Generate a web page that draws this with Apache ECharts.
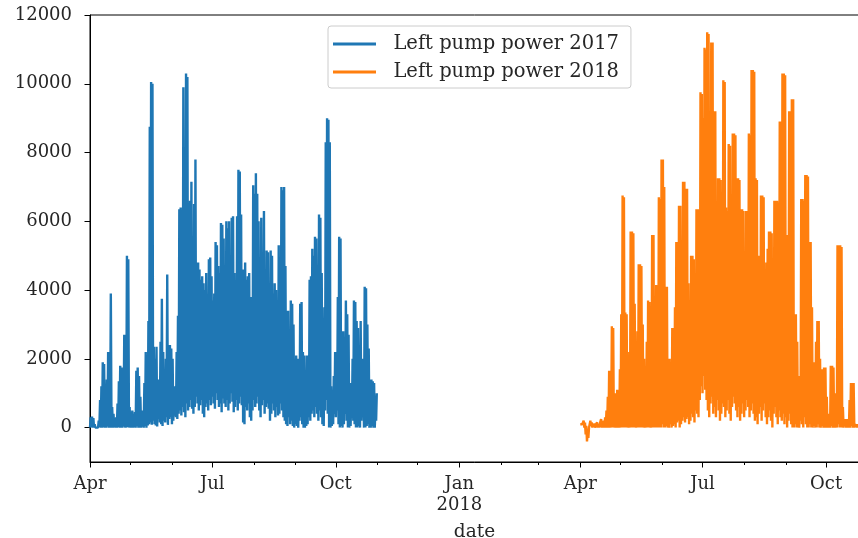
<!DOCTYPE html>
<html>
<head>
<meta charset="utf-8">
<script src="https://cdn.jsdelivr.net/npm/echarts@6/dist/echarts.min.js"></script>
<style>
  html, body { margin: 0; padding: 0; background: #fff; }
  #chart { width: 858px; height: 538px; }
</style>
</head>
<body>
<div id="chart"></div>
<script>
// daily readings: one low (night) and one high (day) per day
const start2017 = [2017, 3, 1];
const start2018 = [2018, 3, 1];

const high2017 = [
  300, 320, 280, 100, 30, 0, 200, 800, 1200, 1900,
  1850, 600, 1400, 2200, 2100, 3900, 600, 400, 150, 300,
  700, 1350, 1800, 1750, 900, 2700, 1200, 5000, 4900, 600,
  300, 500, 200, 450, 1650, 1750, 1500, 900, 400, 500,
  1300, 2200, 2100, 3100, 8750, 10050, 10000, 2350, 2000, 2350,
  1400, 900, 2500, 3750, 2200, 1200, 2000, 4450, 1500, 2400,
  2300, 2000, 1200, 800, 2200, 3250, 6350, 6400, 2600, 9900,
  5000, 10300, 10200, 4100, 6600, 7150, 3000, 6500, 7800, 4700,
  4800, 4600, 4300, 4400, 4200, 4000, 4500, 2800, 4900, 4950,
  4400, 3700, 3900, 5400, 5300, 4700, 4500, 5950, 5900, 5500,
  4200, 6000, 5800, 6000, 4200, 6100, 6150, 4500, 3000, 6150,
  7500, 7450, 6200, 4600, 4600, 4800, 4300, 4400, 4500, 3800,
  3200, 7050, 6800, 7400, 6800, 6000, 3700, 6100, 4700, 6300,
  3700, 5150, 5100, 4200, 5150, 5000, 3900, 4200, 4000, 3500,
  5300, 3600, 7000, 6900, 7000, 4700, 3400, 3400, 2500, 3700,
  3600, 3000, 1700, 2100, 2000, 1100, 3600, 3650, 2200, 2100,
  900, 2100, 1800, 4300, 4400, 5200, 5000, 5550, 5500, 4300,
  6200, 6100, 4500, 2700, 3500, 8300, 9000, 8950, 8300, 1200,
  600, 1500, 2200, 1400, 3800, 5550, 5500, 2400, 2800, 1900,
  3700, 3300, 2700, 1300, 900, 2000, 3700, 3650, 3100, 2900,
  1500, 3100, 2000, 1000, 4100, 4050, 3000, 2300, 800, 1400,
  1350, 1300, 600, 1000
];
const low2017 = [
  0, 10, 0, 0, 0, 0, 0, 20, 0, 0,
  10, 0, 0, 30, 0, 0, 0, 0, 10, 0,
  0, 20, 0, 0, 0, 30, 0, 0, 20, 0,
  0, 0, 0, 10, 0, 40, 0, 0, 0, 30,
  0, 50, 0, 60, 100, 150, 80, 200, 100, 60,
  30, 250, 150, 100, 50, 200, 150, 300, 80, 250,
  300, 100, 200, 350, 300, 250, 400, 500, 350, 600,
  450, 300, 700, 500, 600, 800, 550, 400, 600, 900,
  700, 500, 650, 800, 400, 300, 600, 700, 500, 800,
  650, 900, 700, 550, 1000, 800, 600, 700, 450, 850,
  700, 600, 800, 500, 700, 1000, 750, 450, 600, 800,
  500, 700, 900, 650, 150, 100, 600, 500, 700, 300,
  200, 500, 800, 600, 700, 900, 500, 300, 650, 800,
  400, 600, 700, 550, 200, 400, 700, 500, 300, 600,
  350, 400, 700, 500, 300, 200, 100, 50, 300, 100,
  200, 50, 0, 100, 50, 0, 200, 300, 100, 0,
  0, 50, 100, 300, 200, 400, 500, 300, 600, 400,
  200, 500, 300, 100, 50, 500, 800, 400, 0, 0,
  50, 100, 400, 300, 500, 100, 0, 50, 0, 100,
  400, 200, 0, 0, 50, 300, 200, 100, 0, 0,
  50, 0, 200, 300, 0, 0, 50, 100, 0, 0,
  50, 0, 0, 200
];

const high2018 = [
  150, 100, 200, 150, 50, -100, 0, 200, 150, 100,
  120, 80, 150, 100, 100, 250, 150, 200, 300, 500,
  900, 1650, 1200, 2950, 2900, 700, 1000, 1100, 900, 1700,
  3300, 6750, 6700, 3350, 3300, 1500, 2200, 5700, 5700, 5650,
  3600, 2000, 2800, 4750, 4750, 4700, 3000, 2000, 1100, 2500,
  3700, 3650, 2400, 5600, 5600, 3000, 4150, 4100, 6700, 6650,
  7800, 7800, 7000, 4100, 4100, 1200, 2000, 1300, 2900, 2900,
  3500, 5400, 5400, 6450, 6450, 4000, 7150, 7150, 6950, 6950,
  4200, 3000, 5000, 5000, 4900, 4000, 6350, 6350, 6300, 9750,
  9700, 9000, 11050, 11000, 11500, 11450, 8000, 11200, 11200, 9200,
  9200, 6500, 7250, 7250, 7200, 5000, 10100, 10050, 6400, 6300,
  8250, 8200, 5500, 8550, 8550, 8500, 7250, 7250, 7200, 6350,
  6350, 6300, 4900, 6300, 6300, 8550, 8500, 10400, 10400, 10350,
  7250, 7200, 5000, 5000, 6750, 6750, 6700, 4600, 4800, 5200,
  5700, 5700, 5650, 4400, 6600, 6600, 6600, 6550, 8900, 8900,
  10300, 10300, 10250, 5600, 5600, 9200, 9200, 9550, 9550, 3300,
  3300, 2500, 1500, 1500, 6650, 6650, 6600, 7350, 7350, 7300,
  5400, 5400, 3500, 1900, 1900, 2500, 3100, 3100, 2000, 1700,
  1700, 1750, 1750, 900, 400, 400, 1800, 1800, 1750, 200,
  1000, 5300, 5300, 5300, 5250, 600, 250, 250, 250, 250,
  800, 1300, 1300, 1300, 100, 100, 100, 100
];
const low2018 = [
  100, 50, 80, 0, -200, -400, -300, 0, 50, 0,
  30, 0, 50, 0, 0, 50, 0, 0, 0, 0,
  0, 0, 0, 0, 0, 0, 0, 0, 0, 0,
  0, 0, 0, 0, 0, 0, 0, 0, 0, 0,
  0, 0, 0, 0, 0, 0, 0, 0, 0, 0,
  0, 0, 0, 0, 0, 0, 0, 0, 0, 0,
  0, 100, 0, 0, 50, 0, 0, 100, 0, 50,
  100, 0, 150, 200, 0, 100, 200, 300, 150, 250,
  300, 100, 200, 400, 300, 150, 500, 400, 300, 800,
  1200, 1000, 1500, 1100, 800, 500, 300, 700, 900, 400,
  600, 300, 800, 500, 200, 400, 700, 600, 300, 500,
  800, 400, 200, 600, 900, 700, 500, 300, 600, 200,
  400, 700, 300, 500, 800, 600, 300, 500, 700, 400,
  200, 300, 100, 400, 600, 200, 500, 700, 300, 100,
  300, 500, 200, 0, 400, 600, 300, 100, 500, 300,
  200, 400, 100, 300, 0, 200, 400, 100, 0, 0,
  100, 0, 0, 0, 200, 100, 0, 300, 100, 0,
  0, 100, 0, 0, 50, 0, 0, 100, 0, 0,
  50, 0, 0, 0, 0, 0, 0, 50, 0, 0,
  0, 0, 100, 0, 0, 0, 0, 50, 0, 0,
  0, 0, 50, 0, 0, 30, 0, 0
];

const yTicks = [0, 2000, 4000, 6000, 8000, 10000, 12000];
const majorMonths = [[2017, 3], [2017, 6], [2017, 9], [2018, 0], [2018, 3], [2018, 6], [2018, 9]];
const monthNames = ['Jan', 'Feb', 'Mar', 'Apr', 'May', 'Jun', 'Jul', 'Aug', 'Sep', 'Oct', 'Nov', 'Dec'];

function buildPoints(start, lows, highs) {
  const pts = [];
  for (let i = 0; i < highs.length; i++) {
    const t = new Date(start[0], start[1], start[2] + i).getTime();
    pts.push([t, lows[i]]);
    pts.push([t + 12 * 3600 * 1000, highs[i]]);
  }
  return pts;
}

const data2017 = buildPoints(start2017, low2017, high2017);
const data2018 = buildPoints(start2018, low2018, high2018);

const majorTicks = majorMonths.map((m) => new Date(m[0], m[1], 1).getTime());
const minorTicks = [];
for (let i = 1; i < 18; i++) {
  minorTicks.push(new Date(2017, 3 + i, 1).getTime());
}
const xMin = majorTicks[0];
const xMax = data2018[data2018.length - 1][0];

const font = 'DejaVu Serif';
const ink = '#262626';

const chart = echarts.init(document.getElementById('chart'));
chart.setOption({
  animation: false,
  backgroundColor: '#fff',
  grid: {
    left: 90, right: -1, top: 15, bottom: 76,
    show: true, borderColor: '#000', borderWidth: 1,
    outerBoundsMode: 'none'
  },
  legend: {
    orient: 'vertical',
    left: 328, top: 26,
    padding: [7, 12, 5, 5],
    itemGap: 6,
    itemWidth: 43, itemHeight: 3,
    icon: 'rect',
    backgroundColor: '#fff',
    borderColor: '#ccc', borderWidth: 1, borderRadius: 3,
    formatter: (name) => '  ' + name,
    textStyle: { fontFamily: font, fontSize: 19.5, color: ink, lineHeight: 22 }
  },
  xAxis: [
    {
      type: 'value',
      min: xMin,
      max: xMax,
      name: 'date',
      nameLocation: 'middle',
      nameGap: 61,
      nameTextStyle: { fontFamily: font, fontSize: 18.5, color: ink },
      axisLine: { onZero: false, lineStyle: { color: '#000', width: 1 } },
      axisTick: { customValues: majorTicks, length: 5.5, lineStyle: { color: '#000' } },
      axisLabel: {
        customValues: majorTicks,
        fontFamily: font, fontSize: 18, color: ink, margin: 12, lineHeight: 21,
        formatter: (v) => {
          const d = new Date(v);
          return d.getMonth() === 0 ? 'Jan\n' + d.getFullYear() : monthNames[d.getMonth()];
        }
      },
      splitLine: { show: false }
    },
    {
      type: 'value',
      position: 'bottom',
      min: xMin,
      max: xMax,
      axisLine: { show: false, onZero: false },
      axisTick: { customValues: minorTicks, length: 3, lineStyle: { color: '#000' } },
      axisLabel: { show: false },
      splitLine: { show: false }
    }
  ],
  yAxis: {
    type: 'value',
    min: -1000,
    max: 12000,
    axisLine: { show: true, onZero: false, lineStyle: { color: '#000', width: 1 } },
    axisTick: { show: true, customValues: yTicks, length: 5.5, lineStyle: { color: '#000' } },
    axisLabel: {
      customValues: yTicks, fontFamily: font, fontSize: 18, color: ink, margin: 18,
      formatter: (v) => String(v)
    },
    splitLine: { show: false }
  },
  series: [
    {
      name: 'Left pump power 2017',
      type: 'line',
      xAxisIndex: 0,
      data: data2017,
      showSymbol: false,
      color: '#1f77b4',
      lineStyle: { width: 2.4, color: '#1f77b4' }
    },
    {
      name: 'Left pump power 2018',
      type: 'line',
      xAxisIndex: 0,
      data: data2018,
      showSymbol: false,
      color: '#ff7f0e',
      lineStyle: { width: 2.4, color: '#ff7f0e' }
    }
  ]
});
</script>
</body>
</html>
